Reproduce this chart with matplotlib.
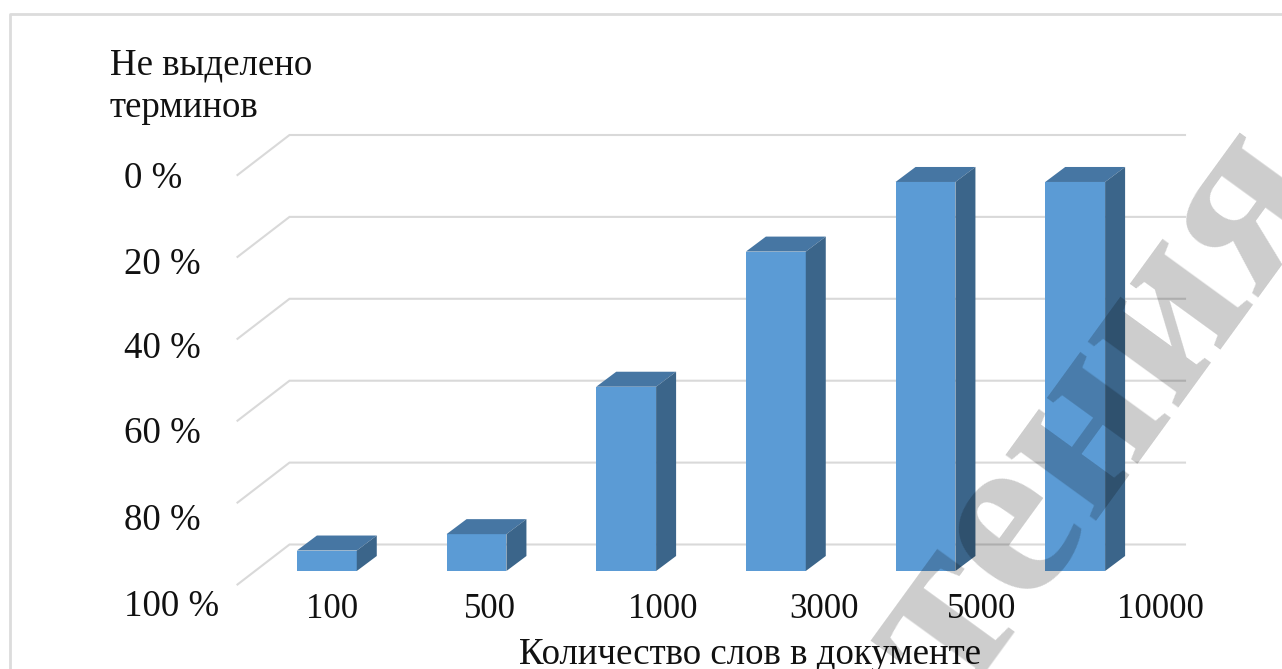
#!/usr/bin/env python3
"""3D-look column chart: share of terms not extracted vs document length."""
import matplotlib
matplotlib.use("Agg")
import matplotlib.pyplot as plt
from matplotlib.patches import Polygon

W, H = 1282, 669
FRONT = "#5b9bd5"; TOP = "#4676a3"; SIDE = "#3b658a"; GRID = "#d9d9d9"; INK = "#111111"
FS = 26.6

categories = ["100", "500", "1000", "3000", "5000", "10000"]
not_extracted = [95, 91, 55, 22, 5, 5]
y_levels = [0, 20, 40, 60, 80, 100]
y_labels = ["0 %", "20 %", "40 %", "60 %", "80 %", "100 %"]

plt.rcParams["font.family"] = ["Liberation Serif", "DejaVu Serif"]

fig = plt.figure(figsize=(W / 100, H / 100), dpi=100)
fig.patch.set_facecolor("white")


def fx(px):
    return px / W


def fy(py):
    return 1 - py / H


# front plane of the columns: x pixels 252..1150, y pixels 161.5 (0 %) .. 571 (100 %)
ax = fig.add_axes([fx(252), fy(571), 898 / W, 409.5 / H])
ax.set_xlim(-0.5, 5.5)
ax.set_ylim(100, 0)
ax.set_axis_off()

ux = 6 / 898       # data units per pixel, x
uy = 100 / 409.5   # data units per pixel, y (inverted axis: up = smaller value)

# back wall + floor gridlines
back_dx, back_dy = 35 * ux, -26.5 * uy
wall_dx, wall_dy = -52 * ux, 40 * uy
for lv in y_levels:
    xb0, yb0 = -0.5 + back_dx + 2.5 * ux, lv + back_dy
    xb1 = 5.5 + back_dx
    ax.plot([xb0 + wall_dx, xb0, xb1], [yb0 + wall_dy, yb0, yb0], color=GRID, lw=1.5,
            clip_on=False, zorder=1, solid_joinstyle="miter")

# columns with fake depth
bar_w = 0.4
dx, dy = 20 * ux, -15 * uy
xs = list(range(len(categories)))
ax.bar(xs, [100 - v for v in not_extracted], bottom=not_extracted, width=bar_w,
       color=FRONT, zorder=3, clip_on=False)
for x, v in zip(xs, not_extracted):
    l, r = x - bar_w / 2, x + bar_w / 2
    ax.add_patch(Polygon([(l, v), (r, v), (r + dx, v + dy), (l + dx, v + dy)],
                         facecolor=TOP, edgecolor="none", zorder=3, clip_on=False))
    ax.add_patch(Polygon([(r, v), (r + dx, v + dy), (r + dx, 100 + dy), (r, 100)],
                         facecolor=SIDE, edgecolor="none", zorder=3, clip_on=False))

# hand-placed labels, as in the source figure
for lab, py in zip(y_labels, [179, 265, 349, 434, 521, 607]):
    fig.text(fx(124), fy(py), lab, fontsize=FS, color=INK, ha="left", va="center")
for lab, px in zip(categories, [332, 490, 663, 824, 982, 1160]):
    fig.text(fx(px), fy(610), lab, fontsize=25, color=INK, ha="center", va="center")
fig.text(fx(110), fy(65), "Не выделено", fontsize=FS, color=INK, ha="left", va="center")
fig.text(fx(110), fy(108), "терминов", fontsize=FS, color=INK, ha="left", va="center")
fig.text(fx(750), fy(655), "Количество слов в документе", fontsize=FS, color=INK,
         ha="center", va="center")

# chart frame, only left and top fall inside the crop
fig.add_artist(plt.Line2D([fx(10), fx(10), 1], [0, fy(14), fy(14)], color="#dcdcdc", lw=2))

# watermark on top of everything
fig.text(fx(1099), fy(414), "тения", fontsize=175, fontweight="bold", color="black",
         alpha=0.2, rotation=54, rotation_mode="anchor", ha="center", va="center", zorder=10)

fig.savefig("out.png", dpi=100, facecolor="white")
